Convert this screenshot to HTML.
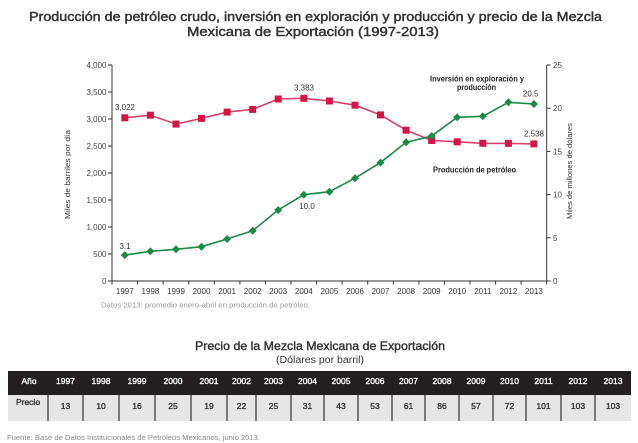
<!DOCTYPE html>
<html><head><meta charset="utf-8"><style>
html,body{margin:0;padding:0;background:#fff;}
svg{display:block;font-family:"Liberation Sans",sans-serif;}
</style></head><body>
<svg width="638" height="443" viewBox="0 0 638 443" xmlns="http://www.w3.org/2000/svg">
<rect width="638" height="443" fill="#fff"/>
<!-- Title -->
<text x="29" y="21" font-size="13" fill="#333" stroke="#333" stroke-width="0.45" textLength="573" lengthAdjust="spacingAndGlyphs">Producción de petróleo crudo, inversión en exploración y producción y precio de la Mezcla</text>
<text x="187" y="36" font-size="13" fill="#333" stroke="#333" stroke-width="0.45" textLength="252" lengthAdjust="spacingAndGlyphs">Mexicana de Exportación (1997-2013)</text>

<!-- Axes -->
<g stroke="#333" stroke-width="1" fill="none">
<line x1="112" y1="65" x2="112" y2="281.5"/>
<line x1="546.7" y1="65" x2="546.7" y2="281.5"/>
<line x1="112" y1="281" x2="546.7" y2="281"/>
<line x1="108" y1="281" x2="112" y2="281"/><line x1="108" y1="254" x2="112" y2="254"/><line x1="108" y1="227" x2="112" y2="227"/><line x1="108" y1="200" x2="112" y2="200"/><line x1="108" y1="173" x2="112" y2="173"/><line x1="108" y1="146" x2="112" y2="146"/><line x1="108" y1="119" x2="112" y2="119"/><line x1="108" y1="92" x2="112" y2="92"/><line x1="108" y1="65" x2="112" y2="65"/>
<line x1="546.7" y1="281" x2="550.5" y2="281"/><line x1="546.7" y1="237.8" x2="550.5" y2="237.8"/><line x1="546.7" y1="194.6" x2="550.5" y2="194.6"/><line x1="546.7" y1="151.4" x2="550.5" y2="151.4"/><line x1="546.7" y1="108.2" x2="550.5" y2="108.2"/><line x1="546.7" y1="65" x2="550.5" y2="65"/>
<line x1="137.6" y1="281" x2="137.6" y2="284.5"/><line x1="163.1" y1="281" x2="163.1" y2="284.5"/><line x1="188.7" y1="281" x2="188.7" y2="284.5"/><line x1="214.3" y1="281" x2="214.3" y2="284.5"/><line x1="239.9" y1="281" x2="239.9" y2="284.5"/><line x1="265.4" y1="281" x2="265.4" y2="284.5"/><line x1="291" y1="281" x2="291" y2="284.5"/><line x1="316.6" y1="281" x2="316.6" y2="284.5"/><line x1="342.1" y1="281" x2="342.1" y2="284.5"/><line x1="367.7" y1="281" x2="367.7" y2="284.5"/><line x1="393.3" y1="281" x2="393.3" y2="284.5"/><line x1="418.9" y1="281" x2="418.9" y2="284.5"/><line x1="444.4" y1="281" x2="444.4" y2="284.5"/><line x1="470" y1="281" x2="470" y2="284.5"/><line x1="495.6" y1="281" x2="495.6" y2="284.5"/><line x1="521.1" y1="281" x2="521.1" y2="284.5"/><line x1="112" y1="281" x2="112" y2="284.5"/><line x1="546.7" y1="281" x2="546.7" y2="284.5"/>
</g>

<g font-size="8" fill="#444" text-anchor="end">
<text x="106.5" y="284">0</text><text x="106.5" y="257">500</text><text x="106.5" y="230">1,000</text><text x="106.5" y="203">1,500</text><text x="106.5" y="176">2,000</text><text x="106.5" y="149">2,500</text><text x="106.5" y="122">3,000</text><text x="106.5" y="95">3,500</text><text x="106.5" y="68">4,000</text>
</g>
<g font-size="8" fill="#444">
<text x="553" y="284">0</text><text x="553" y="240.8">5</text><text x="553" y="197.6">10</text><text x="553" y="154.4">15</text><text x="553" y="111.2">20</text><text x="553" y="68">25</text>
</g>
<g font-size="8" fill="#333" text-anchor="middle">
<text x="124.8" y="294">1997</text><text x="150.4" y="294">1998</text><text x="176" y="294">1999</text><text x="201.5" y="294">2000</text><text x="227.1" y="294">2001</text><text x="252.7" y="294">2002</text><text x="278.2" y="294">2003</text><text x="303.8" y="294">2004</text><text x="329.4" y="294">2005</text><text x="355" y="294">2006</text><text x="380.5" y="294">2007</text><text x="406.1" y="294">2008</text><text x="431.7" y="294">2009</text><text x="457.2" y="294">2010</text><text x="482.8" y="294">2011</text><text x="508.4" y="294">2012</text><text x="533.9" y="294">2013</text>
</g>

<text transform="translate(70,174.5) rotate(-90)" font-size="7.5" fill="#333" text-anchor="middle" textLength="89" lengthAdjust="spacingAndGlyphs">Miles de barriles por día</text>
<text transform="translate(572,171) rotate(-90)" font-size="7.5" fill="#333" text-anchor="middle" textLength="96" lengthAdjust="spacingAndGlyphs">Miles de millones de dólares</text>

<text x="101" y="307.5" font-size="7.5" fill="#999" textLength="209" lengthAdjust="spacingAndGlyphs">Datos 2013: promedio enero-abril en producción de petróleo.</text>

<polyline fill="none" stroke="#d9406a" stroke-width="1.6" points="124.8,117.8 150.4,115.2 176,124.1 201.5,118.4 227.1,112.1 252.7,109.4 278.2,99 303.8,98.3 329.4,101 355,105.2 380.5,114.9 406.1,130.2 431.7,140.5 457.2,141.8 482.8,143.3 508.4,143.4 533.9,143.9"/>
<g fill="#d2164a">
<rect x="121.3" y="114.3" width="7" height="7"/><rect x="146.9" y="111.7" width="7" height="7"/><rect x="172.5" y="120.6" width="7" height="7"/><rect x="198" y="114.9" width="7" height="7"/><rect x="223.6" y="108.6" width="7" height="7"/><rect x="249.2" y="105.9" width="7" height="7"/><rect x="274.7" y="95.5" width="7" height="7"/><rect x="300.3" y="94.8" width="7" height="7"/><rect x="325.9" y="97.5" width="7" height="7"/><rect x="351.5" y="101.7" width="7" height="7"/><rect x="377" y="111.4" width="7" height="7"/><rect x="402.6" y="126.7" width="7" height="7"/><rect x="428.2" y="137" width="7" height="7"/><rect x="453.7" y="138.3" width="7" height="7"/><rect x="479.3" y="139.8" width="7" height="7"/><rect x="504.9" y="139.9" width="7" height="7"/><rect x="530.4" y="140.4" width="7" height="7"/>
</g>

<polyline fill="none" stroke="#1a8a45" stroke-width="1.6" points="124.8,255.1 150.4,251.3 176,249.3 201.5,246.7 227.1,239 252.7,230.7 278.2,210 303.8,194.7 329.4,191.7 355,178.2 380.5,162.6 406.1,142.3 431.7,136 457.2,117.3 482.8,116.3 508.4,102.3 533.9,104"/>
<g fill="#1a8a45">
<polygon points="124.8,251.1 128.8,255.1 124.8,259.1 120.8,255.1"/>
<polygon points="150.4,247.3 154.4,251.3 150.4,255.3 146.4,251.3"/>
<polygon points="176,245.3 180,249.3 176,253.3 172,249.3"/>
<polygon points="201.5,242.7 205.5,246.7 201.5,250.7 197.5,246.7"/>
<polygon points="227.1,235 231.1,239 227.1,243 223.1,239"/>
<polygon points="252.7,226.7 256.7,230.7 252.7,234.7 248.7,230.7"/>
<polygon points="278.2,206 282.2,210 278.2,214 274.2,210"/>
<polygon points="303.8,190.7 307.8,194.7 303.8,198.7 299.8,194.7"/>
<polygon points="329.4,187.7 333.4,191.7 329.4,195.7 325.4,191.7"/>
<polygon points="355,174.2 359,178.2 355,182.2 351,178.2"/>
<polygon points="380.5,158.6 384.5,162.6 380.5,166.6 376.5,162.6"/>
<polygon points="406.1,138.3 410.1,142.3 406.1,146.3 402.1,142.3"/>
<polygon points="431.7,132 435.7,136 431.7,140 427.7,136"/>
<polygon points="457.2,113.3 461.2,117.3 457.2,121.3 453.2,117.3"/>
<polygon points="482.8,112.3 486.8,116.3 482.8,120.3 478.8,116.3"/>
<polygon points="508.4,98.3 512.4,102.3 508.4,106.3 504.4,102.3"/>
<polygon points="533.9,100 537.9,104 533.9,108 529.9,104"/>
</g>

<g font-size="8" fill="#333" text-anchor="middle">
<text x="125" y="110">3,022</text>
<text x="304" y="90.5">3,383</text>
<text x="125" y="249">3.1</text>
<text x="307" y="209">10.0</text>
<text x="530.7" y="96.5">20.5</text>
<text x="534" y="136.5">2,538</text>
</g>

<g font-size="8" font-weight="bold" fill="#222" text-anchor="middle">
<text x="477" y="81.5" textLength="94" lengthAdjust="spacingAndGlyphs">Inversión en exploración y</text>
<text x="476.5" y="90" textLength="39" lengthAdjust="spacingAndGlyphs">producción</text>
<text x="474.5" y="172.3" textLength="83" lengthAdjust="spacingAndGlyphs">Producción de petróleo</text>
</g>

<text x="320" y="350" font-size="12" fill="#333" stroke="#333" stroke-width="0.4" text-anchor="middle" textLength="250" lengthAdjust="spacingAndGlyphs">Precio de la Mezcla Mexicana de Exportación</text>
<text x="320" y="363" font-size="10" fill="#333" text-anchor="middle" textLength="88" lengthAdjust="spacingAndGlyphs">(Dólares por barril)</text>

<rect x="8" y="371" width="623" height="24" fill="#231f20"/>
<rect x="8" y="395" width="623" height="26" fill="#e6e6e6"/>
<g stroke="#555" stroke-width="1.5">
<line x1="48" y1="395" x2="48" y2="421"/><line x1="83" y1="395" x2="83" y2="421"/><line x1="119" y1="395" x2="119" y2="421"/><line x1="155" y1="395" x2="155" y2="421"/><line x1="191" y1="395" x2="191" y2="421"/><line x1="227" y1="395" x2="227" y2="421"/><line x1="256" y1="395" x2="256" y2="421"/><line x1="291" y1="395" x2="291" y2="421"/><line x1="324" y1="395" x2="324" y2="421"/><line x1="358" y1="395" x2="358" y2="421"/><line x1="392" y1="395" x2="392" y2="421"/><line x1="425" y1="395" x2="425" y2="421"/><line x1="459" y1="395" x2="459" y2="421"/><line x1="493" y1="395" x2="493" y2="421"/><line x1="526" y1="395" x2="526" y2="421"/><line x1="561" y1="395" x2="561" y2="421"/><line x1="595" y1="395" x2="595" y2="421"/>
</g>
<g font-size="8.5" fill="#fff" stroke="#fff" stroke-width="0.35" text-anchor="middle">
<text x="29" y="384">Año</text>
<text x="65.5" y="384">1997</text><text x="101" y="384">1998</text><text x="137" y="384">1999</text><text x="173" y="384">2000</text><text x="209" y="384">2001</text><text x="241.5" y="384">2002</text><text x="273.5" y="384">2003</text><text x="307.5" y="384">2004</text><text x="341" y="384">2005</text><text x="375" y="384">2006</text><text x="408.5" y="384">2007</text><text x="442" y="384">2008</text><text x="476" y="384">2009</text><text x="509.5" y="384">2010</text><text x="543.5" y="384">2011</text><text x="578" y="384">2012</text><text x="613" y="384">2013</text>
</g>
<g font-size="8.5" fill="#333" stroke="#333" stroke-width="0.35" text-anchor="middle">
<text x="28" y="405">Precio</text>
<text x="65.5" y="409">13</text><text x="101" y="409">10</text><text x="137" y="409">16</text><text x="173" y="409">25</text><text x="209" y="409">19</text><text x="241.5" y="409">22</text><text x="273.5" y="409">25</text><text x="307.5" y="409">31</text><text x="341" y="409">43</text><text x="375" y="409">53</text><text x="408.5" y="409">61</text><text x="442" y="409">86</text><text x="476" y="409">57</text><text x="509.5" y="409">72</text><text x="543.5" y="409">101</text><text x="578" y="409">103</text><text x="613" y="409">103</text>
</g>

<text x="7" y="440" font-size="7.5" fill="#888" textLength="253" lengthAdjust="spacingAndGlyphs">Fuente: Base de Datos Institucionales de Petróleos Mexicanos, junio 2013.</text>
</svg>
</body></html>
